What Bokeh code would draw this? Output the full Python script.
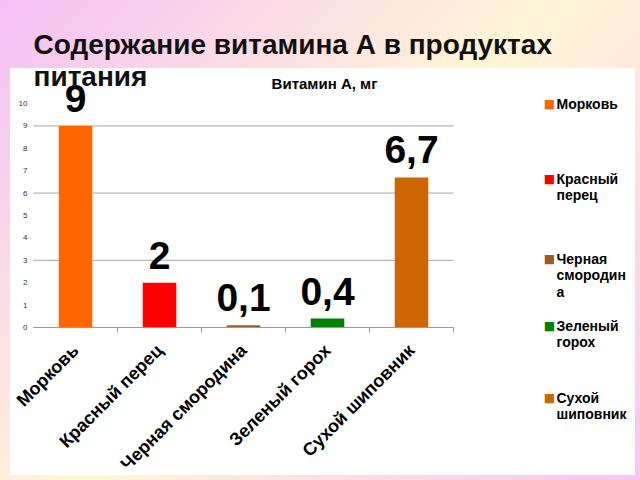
import math
from bokeh.plotting import figure
from bokeh.models import ColumnDataSource, LabelSet, Label, FixedTicker, Range1d
from bokeh.core.properties import value
from bokeh.embed import file_html
from bokeh.resources import INLINE

# ---- data ----
categories = ["Морковь", "Красный перец", "Черная смородина", "Зеленый горох", "Сухой шиповник"]
values = [9, 2, 0.1, 0.4, 6.7]
value_labels = ["9", "2", "0,1", "0,4", "6,7"]
colors = ["#FF6600", "#FF0000", "#9C5A2A", "#008000", "#CC6600"]
legend_labels = [["Морковь"], ["Красный", "перец"], ["Черная", "смородин", "а"],
                 ["Зеленый", "горох"], ["Сухой", "шиповник"]]
y_ticks = list(range(0, 11))
grid_ticks = [0, 3, 6, 9]
title_lines = ["Содержание витамина А в продуктах", "питания"]
chart_title = "Витамин А, мг"

# ---- layout (pixels) ----
W, H = 640, 480
FL, FR, FT, FB = 33, 453, 103, 327   # plot area of the bar chart
n = len(categories)
YMAX = 10
PX = (FR - FL) / n
PY = (FB - FT) / YMAX

p = figure(width=W, height=H, output_backend="svg", toolbar_location=None, title=None,
           x_range=Range1d(-FL / PX, n + (W - FR) / PX),
           y_range=Range1d(-(H - FB) / PY, YMAX + FT / PY),
           min_border=0, min_border_left=0, min_border_right=0,
           min_border_top=0, min_border_bottom=0)
p.background_fill_color = None
p.border_fill_color = None
p.outline_line_color = None
p.styles = {"background": "linear-gradient(#ffffff,#ffffff) 10px 68px / 625px 407px no-repeat, "
                          "linear-gradient(135deg, #f5bff5 0%, #fff6d6 50%, #f8c4f0 100%)"}


def dx(px):
    return (px - FL) / PX


def dy(py):
    return (FB - py) / PY


xs = [i + 0.5 for i in range(n)]

# grid lines (restricted to the plot area)
p.xgrid.visible = False
p.ygrid.visible = False
p.segment(x0=[0] * len(grid_ticks), x1=[n] * len(grid_ticks), y0=grid_ticks, y1=grid_ticks,
          line_color="#a6a6a6", line_width=1)

src = ColumnDataSource(dict(x=xs, top=values, color=colors, label=value_labels))
p.vbar(x="x", top="top", bottom=0, width=0.4, fill_color="color", line_color=None, source=src)

p.add_layout(LabelSet(x="x", y="top", text="label", source=src, y_offset=14,
                      text_align="center", text_baseline="alphabetic",
                      text_font=value("Liberation Sans"), text_font_style="bold",
                      text_font_size="39px", text_color="#000000"))

# x axis
xa = p.xaxis[0]
xa.fixed_location = 0
xa.bounds = (0, n)
xa.ticker = FixedTicker(ticks=xs, minor_ticks=list(range(1, n + 1)))
xa.major_label_overrides = {x: c for x, c in zip(xs, categories)}
xa.major_label_orientation = math.pi / 4
xa.major_tick_line_color = None
xa.major_tick_out = 0
xa.major_tick_in = 0
xa.minor_tick_line_color = "#9a9a9a"
xa.minor_tick_out = 5
xa.minor_tick_in = 0
xa.axis_line_color = "#9a9a9a"
xa.major_label_text_font = "Liberation Sans"
xa.major_label_text_font_style = "bold"
xa.major_label_text_font_size = "18px"
xa.major_label_text_color = "#000000"
xa.major_label_standoff = 15

# y axis
ya = p.yaxis[0]
ya.fixed_location = 0
ya.bounds = (0, YMAX)
ya.ticker = FixedTicker(ticks=y_ticks)
ya.axis_line_color = None
ya.major_tick_line_color = None
ya.minor_tick_line_color = None
ya.major_tick_out = 0
ya.major_tick_in = 0
ya.major_label_text_font = "Liberation Sans"
ya.major_label_text_font_size = "8px"
ya.major_label_text_color = "#333333"
ya.major_label_standoff = 6

# titles
for k, line in enumerate(title_lines):
    p.add_layout(Label(x=dx(33), y=dy(44 + 32 * k), text=line, text_align="left",
                       text_baseline="alphabetic", text_font="Liberation Sans",
                       text_font_style="bold", text_font_size="28px", text_color="#111111"))
p.add_layout(Label(x=dx(324), y=dy(83), text=chart_title, text_align="center",
                   text_baseline="alphabetic", text_font="Liberation Sans",
                   text_font_style="bold", text_font_size="15px", text_color="#000000"))

# legend (manual)
legend_row_y = [103, 178, 258, 325, 397]
for i, lines in enumerate(legend_labels):
    p.add_layout(Label(x=dx(549), y=dy(legend_row_y[i]), text="■", text_align="center",
                       text_baseline="middle", text_font="DejaVu Sans",
                       text_font_size="12px", text_color=colors[i]))
    for k, line in enumerate(lines):
        p.add_layout(Label(x=dx(556), y=dy(legend_row_y[i] + 16.5 * k), text=line,
                           text_align="left", text_baseline="middle",
                           text_font="Liberation Sans", text_font_style="bold",
                           text_font_size="14px", text_color="#000000"))

open("out.html", "w").write(file_html(p, INLINE))
